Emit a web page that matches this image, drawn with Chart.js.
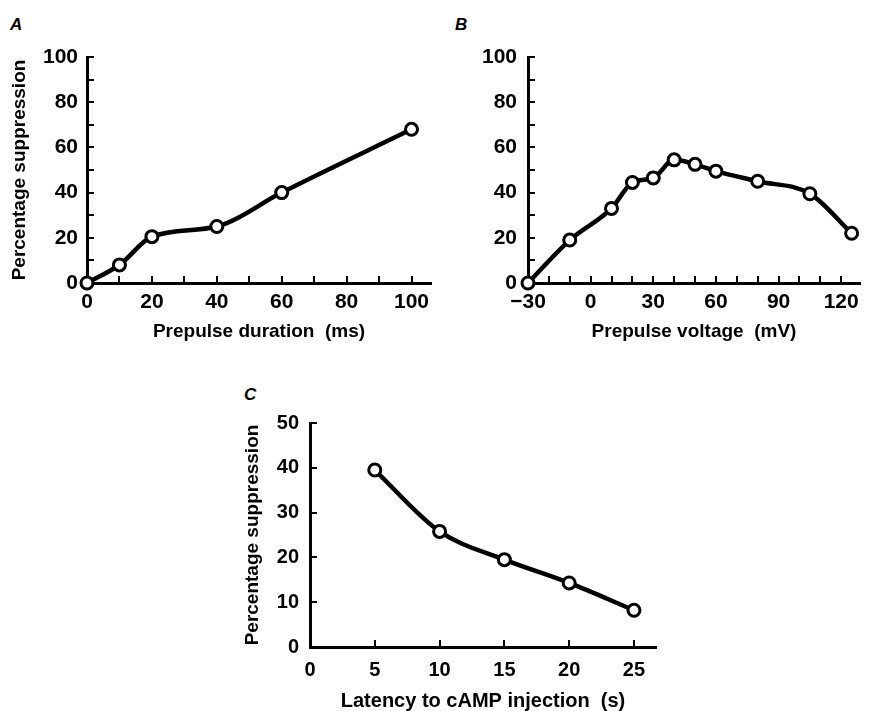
<!DOCTYPE html>
<html>
<head>
<meta charset="utf-8">
<script src="https://cdn.jsdelivr.net/npm/chart.js@4.4.1/dist/chart.umd.min.js"></script>
<style>
  body { margin: 0; background: #fff; width: 869px; height: 711px; position: relative; overflow: hidden; font-family: "Liberation Sans", Arial, sans-serif; }
  .box { position: absolute; }
  .tag { position: absolute; font-style: italic; font-weight: bold; font-size: 17px; line-height: 17px; color: #000; }
</style>
</head>
<body>
<div class="tag" style="left:10px;top:16px">A</div>
<div class="tag" style="left:455px;top:16px">B</div>
<div class="tag" style="left:244px;top:386px">C</div>
<div class="box" style="left:0;top:0;width:440px;height:345px"><canvas id="chartA"></canvas></div>
<div class="box" style="left:440px;top:0;width:429px;height:345px"><canvas id="chartB"></canvas></div>
<div class="box" style="left:230px;top:360px;width:440px;height:351px"><canvas id="chartC"></canvas></div>
<script>
// panel A: prepulse duration
var durationA = [0, 10, 20, 40, 60, 100];
var suppressionA = [0, 8, 20.5, 25, 40, 68];
var xLabelsA = [0, 20, 40, 60, 80, 100];
var yLabelsA = [0, 20, 40, 60, 80, 100];

// panel B: prepulse voltage
var voltageB = [-30, -10, 10, 20, 30, 40, 50, 60, 80, 105, 125];
var suppressionB = [0, 19, 33, 44.5, 46.5, 54.5, 52.5, 49.5, 45, 39.5, 22];
var xLabelsB = [-30, 0, 30, 60, 90, 120];
var yLabelsB = [0, 20, 40, 60, 80, 100];

// panel C: latency to cAMP injection
var latencyC = [5, 10, 15, 20, 25];
var suppressionC = [39.5, 25.8, 19.5, 14.3, 8.2];
var xLabelsC = [0, 5, 10, 15, 20, 25];
var yLabelsC = [0, 10, 20, 30, 40, 50];

Chart.defaults.color = '#000';
Chart.defaults.font.family = '"Liberation Sans", Arial, sans-serif';
Chart.defaults.font.weight = 'bold';

// short ticks pointing into the plot, like the printed figure
var innerTicks = {
  id: 'innerTicks',
  beforeDatasetsDraw: function(chart) {
    var ctx = chart.ctx, x = chart.scales.x, y = chart.scales.y;
    ctx.save();
    ctx.strokeStyle = '#000';
    ctx.lineWidth = 2;
    ctx.beginPath();
    x.ticks.forEach(function(t) {
      if (t.value === x.min) return;
      var px = Math.round(x.getPixelForValue(t.value));
      ctx.moveTo(px, x.top);
      ctx.lineTo(px, x.top - 7);
    });
    y.ticks.forEach(function(t) {
      if (t.value === y.min) return;
      var py = Math.round(y.getPixelForValue(t.value));
      ctx.moveTo(y.right, py);
      ctx.lineTo(y.right + 7, py);
    });
    ctx.stroke();
    ctx.restore();
  }
};

function fmt(v) {
  return v < 0 ? '\u2212' + Math.abs(v) : String(v);
}

function makeChart(id, o) {
  var pts = o.xs.map(function(x, i) { return { x: x, y: o.ys[i] }; });
  return new Chart(document.getElementById(id), {
    type: 'line',
    data: {
      datasets: [{
        data: pts,
        borderColor: '#000',
        borderWidth: 4.5,
        cubicInterpolationMode: 'monotone',
        pointRadius: 6,
        pointBorderWidth: 3,
        pointBackgroundColor: '#fff',
        pointBorderColor: '#000',
        clip: false
      }]
    },
    options: {
      responsive: true,
      maintainAspectRatio: false,
      animation: false,
      layout: { padding: o.padding },
      plugins: { legend: { display: false }, tooltip: { enabled: false } },
      scales: {
        x: {
          type: 'linear',
          min: o.xMin, max: o.xMax,
          afterFit: function(s) { s.height = o.xHeight; },
          grid: { display: false, drawTicks: false },
          border: { display: true, color: '#000', width: 3 },
          ticks: {
            stepSize: o.xStep,
            includeBounds: false,
            autoSkip: false,
            maxRotation: 0,
            padding: o.xPad,
            font: { size: o.tickSize },
            callback: function(v) { return o.xLabels.indexOf(v) >= 0 ? fmt(v) : ''; }
          },
          title: { display: true, text: o.xTitle, font: { size: o.xTitleSize }, padding: { top: 0, bottom: o.xTitlePad } }
        },
        y: {
          min: 0, max: o.yMax,
          afterFit: function(s) { s.width = o.yWidth; },
          grid: { display: false, drawTicks: false },
          border: { display: true, color: '#000', width: 3 },
          ticks: {
            stepSize: o.yStep,
            autoSkip: false,
            padding: o.yPad,
            font: { size: o.tickSize },
            callback: function(v) { return o.yLabels.indexOf(v) >= 0 ? fmt(v) : ''; }
          },
          title: { display: !!o.yTitle, text: o.yTitle || '', font: { size: o.yTitleSize }, padding: 0 }
        }
      }
    },
    plugins: [innerTicks]
  });
}

makeChart('chartA', {
  xs: durationA, ys: suppressionA, xLabels: xLabelsA, yLabels: yLabelsA,
  xMin: 0, xMax: 106, xStep: 10, yMax: 100, yStep: 10,
  xTitle: 'Prepulse duration  (ms)', yTitle: 'Percentage suppression',
  padding: { left: 8, top: 57, right: 7, bottom: 0 },
  yWidth: 79, xHeight: 62, tickSize: 21, xTitleSize: 19, yTitleSize: 19,
  xPad: 7, yPad: 9, xTitlePad: 2
});

makeChart('chartB', {
  xs: voltageB, ys: suppressionB, xLabels: xLabelsB, yLabels: yLabelsB,
  xMin: -30, xMax: 129, xStep: 10, yMax: 100, yStep: 10,
  xTitle: 'Prepulse voltage  (mV)', yTitle: '',
  padding: { left: 0, top: 57, right: 0, bottom: 0 },
  yWidth: 88, xHeight: 62, tickSize: 21, xTitleSize: 19, yTitleSize: 19,
  xPad: 7, yPad: 11, xTitlePad: 2
});

makeChart('chartC', {
  xs: latencyC, ys: suppressionC, xLabels: xLabelsC, yLabels: yLabelsC,
  xMin: 0, xMax: 26.7, xStep: 5, yMax: 50, yStep: 10,
  xTitle: 'Latency to cAMP injection  (s)', yTitle: 'Percentage suppression',
  padding: { left: 11, top: 63, right: 14, bottom: 0 },
  yWidth: 69, xHeight: 64, tickSize: 20, xTitleSize: 20, yTitleSize: 19,
  xPad: 11, yPad: 11, xTitlePad: -2
});
</script>
</body>
</html>
